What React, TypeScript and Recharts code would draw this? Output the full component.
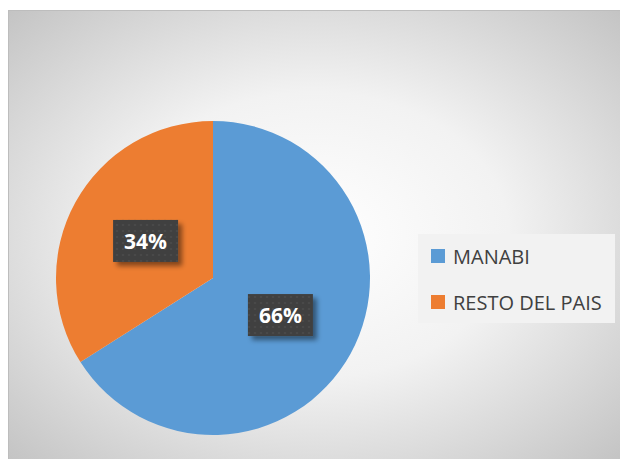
import { Legend, Pie, PieChart } from 'recharts'

const categories = ['MANABI', 'RESTO DEL PAIS']
const shares = [66, 34]
const colors = ['#5B9BD5', '#ED7D31']

const data = categories.map((name, i) => ({ name, value: shares[i], fill: colors[i] }))

const RADIAN = Math.PI / 180

function renderLabel(props: any) {
  const { cx, cy, midAngle, outerRadius, value } = props
  const r = outerRadius * 0.49
  const x = cx + r * Math.cos(-midAngle * RADIAN)
  const y = cy + r * Math.sin(-midAngle * RADIAN)
  const w = 65
  const h = 42
  return (
    <g>
      <rect x={x - w / 2} y={y - h / 2} width={w} height={h} fill="#404040" filter="url(#lblShadow)" />
      <rect x={x - w / 2} y={y - h / 2} width={w} height={h} fill="url(#dots)" />
      <text
        x={x}
        y={y}
        textAnchor="middle"
        dominantBaseline="central"
        fill="#ffffff"
        fontFamily="'Open Sans', sans-serif"
        fontWeight={700}
        fontSize={21}
      >
        {`${value}%`}
      </text>
    </g>
  )
}

function renderLegend() {
  return (
    <div
      style={{
        width: 197,
        height: 89,
        background: '#f2f2f2',
        boxSizing: 'border-box',
        paddingLeft: 13,
        paddingTop: 3,
        fontFamily: "'Open Sans', sans-serif",
        fontSize: 20,
        color: '#404040',
      }}
    >
      {categories.map((name, i) => (
        <div key={name} style={{ display: 'flex', alignItems: 'center', height: 38, marginBottom: i === 0 ? 8 : 0 }}>
          <span style={{ width: 14, height: 14, background: colors[i], marginRight: 8, display: 'inline-block' }} />
          <span>{name}</span>
        </div>
      ))}
    </div>
  )
}

export default function App() {
  return (
    <div style={{ position: 'absolute', left: 0, top: 0, width: 620, height: 459, background: '#ffffff' }}>
      <div
        style={{
          position: 'absolute',
          left: 8,
          top: 10,
          width: 612,
          height: 449,
          boxSizing: 'border-box',
          borderLeft: '1px solid #bdbdbd',
          borderTop: '1px solid #bdbdbd',
          background: 'radial-gradient(ellipse farthest-corner at 50% 50%, #ffffff 0%, #f2f2f2 45%, #c4c4c4 100%)',
        }}
      />
      <div style={{ position: 'absolute', left: 0, top: 0 }}>
        <PieChart width={620} height={459} margin={{ top: 0, right: 0, bottom: 0, left: 0 }}>
          <defs>
            <filter id="lblShadow" x="-30%" y="-30%" width="170%" height="170%">
              <feDropShadow dx={4} dy={4} stdDeviation={2.5} floodColor="#000" floodOpacity={0.45} />
            </filter>
            <pattern id="dots" width={6} height={6} patternUnits="userSpaceOnUse">
              <circle cx={3} cy={3} r={1.1} fill="#4b4b4b" />
            </pattern>
          </defs>
          <Pie
            data={data}
            dataKey="value"
            nameKey="name"
            cx={213}
            cy={278}
            outerRadius={157}
            startAngle={90}
            endAngle={-270}
            stroke="none"
            label={renderLabel}
            labelLine={false}
            isAnimationActive={false}
          />
          <Legend
            content={renderLegend}
            wrapperStyle={{ position: 'absolute', left: 418, top: 234, width: 197, height: 89 }}
          />
        </PieChart>
      </div>
    </div>
  )
}
